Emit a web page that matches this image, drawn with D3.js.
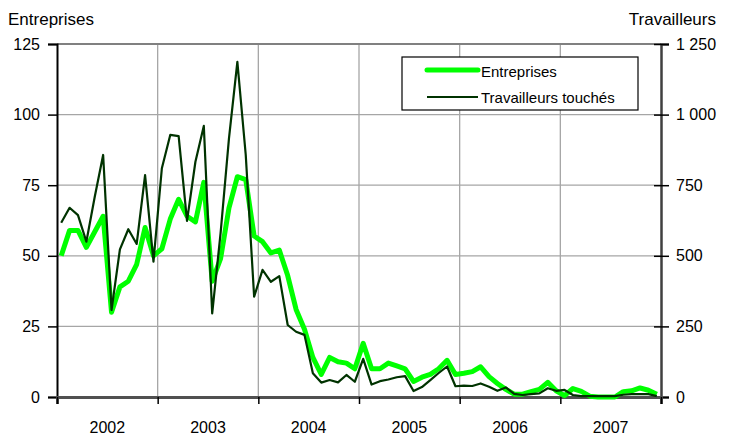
<!DOCTYPE html>
<html><head><meta charset="utf-8">
<script src="https://cdn.jsdelivr.net/npm/d3@7"></script>
<style>
body{margin:0;background:#fff;}
text{font-family:"Liberation Sans",Arial,sans-serif;fill:#000;}
</style></head>
<body><svg id="c" width="733" height="441"></svg>
<script>
const years = ["2002","2003","2004","2005","2006","2007"];
const leftTicks = [0,25,50,75,100,125];
const rightTickLabels = ["0","250","500","750","1 000","1 250"];
const seriesNames = ["Entreprises","Travailleurs touchés"];
const entreprises = [
 50,59,59,53,58.5,64,30,39,41,47,60,50,
 52.5,63,70,64,62,76,41,49,67,78,77,57,
 55,51,52,43,31,24,14,8,14,12.5,12,10,
 19,10,10,12,11,10,5.5,7,8,10,13,8,
 8.4,9,10.7,7.2,4.8,2.7,1,1,1.9,2.7,5.2,2.2,
 0.5,3,2,0.3,0,0,0,1.9,2.2,3.2,2.4,1
];
const travailleurs = [
 617,670,644,550,709,857,308,523,594,542,786,479,
 810,928,924,624,833,960,296,580,916,1187,857,355,
 450,408,428,255,231,220,84,51,60,52,78,54,
 135,44,56,62,70,74,21,35,60,85,108,38,
 40,39,48,36,22,34,11,7,10,13,31,22,
 25,7,3,3,3,3,3,8,10,10,10,3
];

const svg = d3.select("#c");
const L=57, R=661, T=44, B=397;
const x = d3.scaleLinear().domain([0,72]).range([L,R]);
const y = d3.scaleLinear().domain([0,125]).range([B,T]);
const y2 = d3.scaleLinear().domain([0,1250]).range([B,T]);

// grid
const g = svg.append("g");
g.selectAll(".hg").data(leftTicks.slice(1)).enter().append("line")
 .attr("x1",L).attr("x2",R).attr("y1",d=>y(d)).attr("y2",d=>y(d))
 .attr("stroke","#a6a6a6").attr("stroke-width",1.3);
g.selectAll(".vg").data(d3.range(1,6)).enter().append("line")
 .attr("x1",d=>x(d*12)).attr("x2",d=>x(d*12)).attr("y1",T).attr("y2",B)
 .attr("stroke","#a6a6a6").attr("stroke-width",1.3);
// top border
svg.append("line").attr("x1",L).attr("x2",R).attr("y1",T).attr("y2",T)
 .attr("stroke","#808080").attr("stroke-width",2);

// axes
const la = svg.append("g").attr("transform",`translate(${L},0)`)
 .call(d3.axisLeft(y).tickValues(leftTicks).tickSize(9).tickPadding(8).tickFormat(d3.format("d")));
const ra = svg.append("g").attr("transform",`translate(${R},0)`)
 .call(d3.axisRight(y2).tickValues(d3.range(0,1251,250)).tickSize(8).tickPadding(7)
   .tickFormat((d,i)=>rightTickLabels[i]));
const ba = svg.append("g").attr("transform",`translate(0,${B})`)
 .call(d3.axisBottom(x).tickValues(d3.range(0,73,12)).tickSize(7).tickFormat(""));
[la,ra,ba].forEach(a=>{a.selectAll("text").style("font-size","16px").attr("fill","#000");});
la.select(".domain").attr("stroke","#000").attr("stroke-width",2);
la.selectAll(".tick line").attr("stroke","#000").attr("stroke-width",1.5);
ra.select(".domain").attr("stroke","#404040").attr("stroke-width",2.5);
ra.selectAll(".tick line").attr("stroke","#000").attr("stroke-width",1.5).attr("x1",-7);
ba.select(".domain").attr("stroke","#505050").attr("stroke-width",3);
ba.selectAll(".tick line").attr("stroke","#000").attr("stroke-width",1.5);

// year labels
svg.selectAll(".yl").data(years).enter().append("text")
 .attr("x",(d,i)=>x(i*12+6)).attr("y",433).attr("text-anchor","middle")
 .style("font-size","16px").text(d=>d);

// lines
const line1 = d3.line().x((d,i)=>x(i+0.5)).y(d=>y(d));
const line2 = d3.line().x((d,i)=>x(i+0.5)).y(d=>y2(d));
svg.append("path").datum(entreprises).attr("d",line1).attr("fill","none")
 .attr("stroke","#00ff00").attr("stroke-width",5).attr("stroke-linejoin","round");
svg.append("path").datum(travailleurs).attr("d",line2).attr("fill","none")
 .attr("stroke","#003300").attr("stroke-width",2.2).attr("stroke-linejoin","round");

// titles
svg.append("text").attr("x",8).attr("y",25).style("font-size","17px").text("Entreprises");
svg.append("text").attr("x",716).attr("y",25).attr("text-anchor","end").style("font-size","17px").text("Travailleurs");

// legend
const lg = svg.append("g");
lg.append("rect").attr("x",402).attr("y",57).attr("width",236).attr("height",53)
 .attr("fill","#fff").attr("stroke","#000").attr("stroke-width",1.2);
lg.append("line").attr("x1",427).attr("x2",478).attr("y1",70).attr("y2",70)
 .attr("stroke","#00ff00").attr("stroke-width",5).attr("stroke-linecap","round");
lg.append("line").attr("x1",427).attr("x2",478).attr("y1",97).attr("y2",97)
 .attr("stroke","#003300").attr("stroke-width",2.2);
lg.append("text").attr("x",481).attr("y",77).style("font-size","15px").text(seriesNames[0]);
lg.append("text").attr("x",481).attr("y",103).style("font-size","15px").text(seriesNames[1]);
</script></body></html>
